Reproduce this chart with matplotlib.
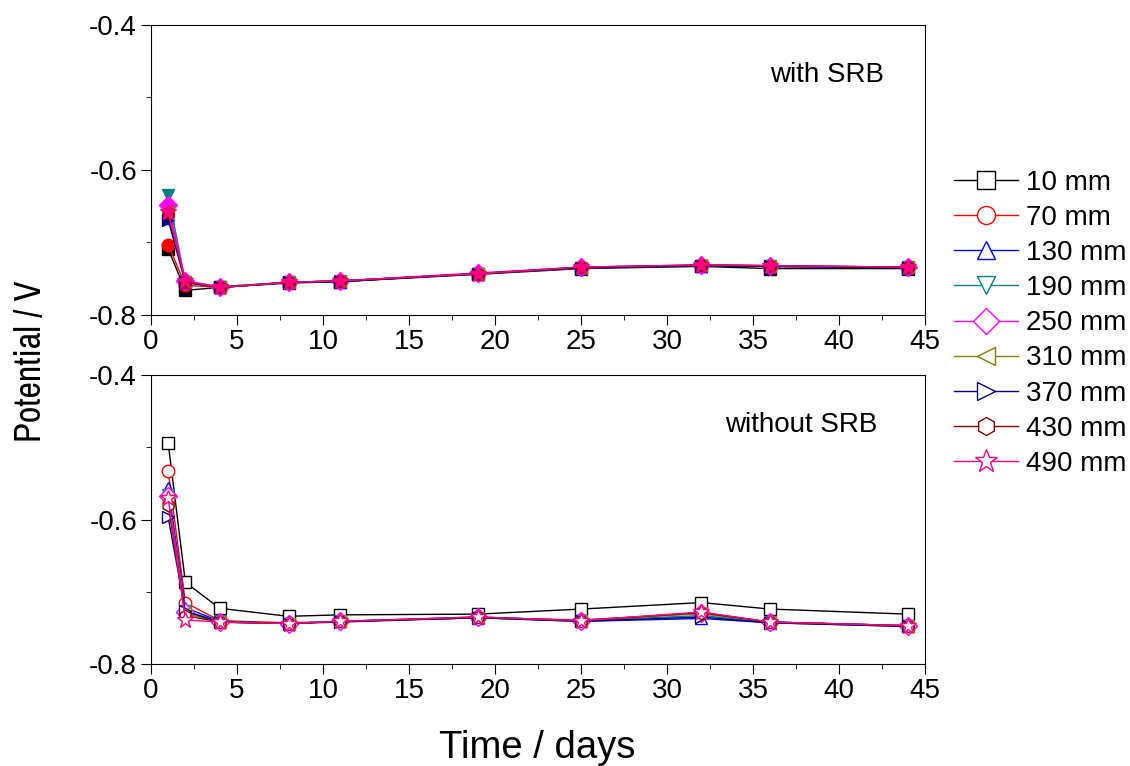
import matplotlib
matplotlib.use("Agg")
import matplotlib.pyplot as plt
from matplotlib.ticker import MultipleLocator
from matplotlib import font_manager

plt.rcParams['font.family'] = ['Liberation Sans', 'DejaVu Sans']

# Datos
days = [1, 2, 4, 8, 11, 19, 25, 32, 36, 44]
labels = ['10 mm', '70 mm', '130 mm', '190 mm', '250 mm', '310 mm', '370 mm', '430 mm', '490 mm']
colors = ['black', 'red', 'blue', '#008080', '#FF00FF', '#808000', '#000080', '#800000', '#FF0080']
markers = ['s', 'o', '^', 'v', 'D', '<', '>', 'h', '*']

# con SRB
with_srb = [
    [-0.709, -0.766, -0.762, -0.756, -0.754, -0.744, -0.736, -0.733, -0.736, -0.736],
    [-0.703, -0.759, -0.762, -0.755, -0.753, -0.743, -0.735, -0.732, -0.733, -0.734],
    [-0.666, -0.755, -0.762, -0.755, -0.754, -0.743, -0.735, -0.732, -0.733, -0.734],
    [-0.634, -0.754, -0.761, -0.755, -0.753, -0.743, -0.735, -0.732, -0.733, -0.734],
    [-0.648, -0.753, -0.761, -0.755, -0.753, -0.742, -0.734, -0.731, -0.732, -0.734],
    [-0.658, -0.754, -0.761, -0.755, -0.753, -0.743, -0.735, -0.731, -0.732, -0.734],
    [-0.669, -0.755, -0.762, -0.755, -0.754, -0.743, -0.735, -0.732, -0.733, -0.735],
    [-0.659, -0.754, -0.762, -0.755, -0.753, -0.743, -0.734, -0.731, -0.732, -0.734],
    [-0.658, -0.753, -0.762, -0.755, -0.753, -0.743, -0.734, -0.731, -0.732, -0.734],
]

# sin SRB
without_srb = [
    [-0.494, -0.687, -0.723, -0.734, -0.732, -0.731, -0.724, -0.715, -0.724, -0.731],
    [-0.533, -0.715, -0.740, -0.743, -0.741, -0.736, -0.739, -0.730, -0.742, -0.747],
    [-0.556, -0.722, -0.741, -0.744, -0.741, -0.736, -0.741, -0.737, -0.743, -0.748],
    [-0.566, -0.727, -0.741, -0.744, -0.741, -0.736, -0.740, -0.733, -0.742, -0.747],
    [-0.567, -0.728, -0.742, -0.744, -0.741, -0.735, -0.740, -0.729, -0.742, -0.747],
    [-0.573, -0.730, -0.742, -0.744, -0.741, -0.736, -0.740, -0.730, -0.742, -0.747],
    [-0.597, -0.727, -0.742, -0.744, -0.742, -0.736, -0.741, -0.735, -0.743, -0.748],
    [-0.580, -0.733, -0.742, -0.744, -0.741, -0.735, -0.740, -0.729, -0.742, -0.747],
    [-0.570, -0.739, -0.742, -0.744, -0.741, -0.735, -0.740, -0.728, -0.742, -0.747],
]

fig = plt.figure(figsize=(11.3, 7.66), dpi=100)
ax1 = fig.add_axes([0.1336, 0.5888, 0.685, 0.3786])
ax2 = fig.add_axes([0.1336, 0.1332, 0.685, 0.3772])

for ax, data, filled in [(ax1, with_srb, True), (ax2, without_srb, False)]:
    for vals, c, m, lab in zip(data, colors, markers, labels):
        ms = 12 if m == '*' else 9
        ax.plot(days, vals, color=c, marker=m, markersize=ms, linewidth=1,
                markerfacecolor=c if filled else 'white', markeredgecolor=c,
                markeredgewidth=1, label=lab)
    ax.set_xlim(0, 45)
    ax.set_ylim(-0.8, -0.4)
    ax.xaxis.set_major_locator(MultipleLocator(5))
    ax.xaxis.set_minor_locator(MultipleLocator(2.5))
    ax.yaxis.set_major_locator(MultipleLocator(0.2))
    ax.yaxis.set_minor_locator(MultipleLocator(0.1))
    ax.tick_params(which='both', direction='out', labelsize=20)
    ax.tick_params(which='major', length=7, pad=3)
    ax.tick_params(which='minor', length=3.5)
    ax.set_yticklabels([f'{v:.1f}' for v in ax.get_yticks()])

ax1.text(0.873, 0.802, 'with SRB', transform=ax1.transAxes, fontsize=20, ha='center')
ax2.text(0.84, 0.802, 'without SRB', transform=ax2.transAxes, fontsize=20, ha='center')

# etiqueta del eje y en fuente estrecha si existe
narrow = [f.name for f in font_manager.fontManager.ttflist if 'Narrow' in f.name]
if narrow:
    fig.text(0.027, 0.528, 'Potential / V', rotation=90, fontsize=26,
             family=[narrow[0], 'Liberation Sans'], ha='center', va='center')
else:
    fig.text(0.027, 0.528, 'Potential / V', rotation=90, fontsize=21,
             ha='center', va='center')
fig.text(0.475, 0.024, 'Time / days', fontsize=27.5, ha='center', va='center')

# Leyenda con marcadores vacíos
handles = [plt.Line2D([0], [0], color=c, marker=m, markersize=17 if m == '*' else 13,
                      markerfacecolor='white', markeredgecolor=c, linewidth=1)
           for c, m in zip(colors, markers)]
fig.legend(handles, labels, loc='center left', bbox_to_anchor=(0.827, 0.578),
           frameon=False, fontsize=20, handlelength=2.3, labelspacing=0.33,
           handletextpad=0.3, borderpad=0.2)

fig.savefig('out.png', dpi=100)
